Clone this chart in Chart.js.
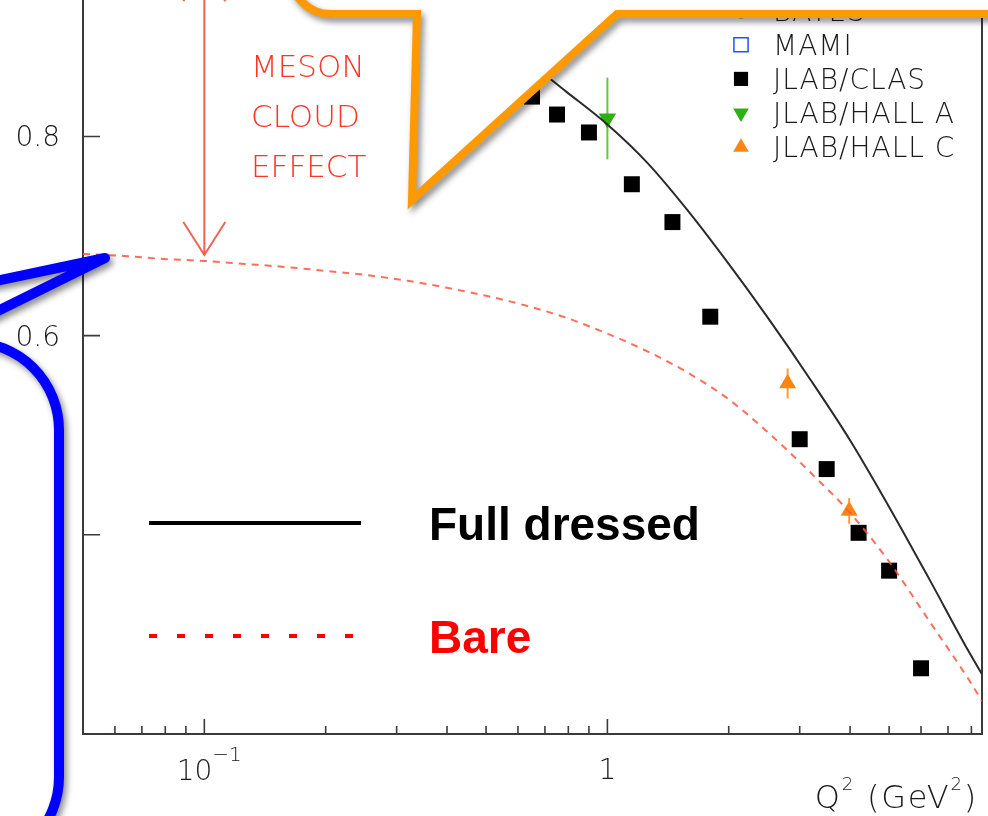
<!DOCTYPE html>
<html>
<head>
<meta charset="utf-8">
<script src="https://cdn.jsdelivr.net/npm/chart.js@4.4.1/dist/chart.umd.min.js"></script>
<style>
  html, body { margin: 0; padding: 0; background: #fff; }
  #wrap { width: 988px; height: 816px; position: relative; overflow: hidden; }
</style>
</head>
<body>
<div id="wrap"><canvas id="gmGrafico" width="988" height="816"></canvas></div>
<script>
// Q2 grid for the two model curves (GeV^2)
const q2Grid = [0.05, 0.063, 0.079, 0.1, 0.126, 0.158, 0.2, 0.25, 0.32, 0.4, 0.5, 0.63, 0.79, 1.0, 1.26, 1.58, 2.0, 2.5, 3.2, 4.0, 5.0, 6.3, 7.9, 8.5];
// full dressed model
const fullDressed = [0.985, 0.983, 0.980, 0.976, 0.971, 0.964, 0.956, 0.946, 0.935, 0.921, 0.902, 0.876, 0.845, 0.812, 0.773, 0.726, 0.672, 0.618, 0.555, 0.495, 0.428, 0.355, 0.282, 0.260];
// bare quark core
const bare = [0.682, 0.680, 0.677, 0.675, 0.672, 0.669, 0.665, 0.661, 0.655, 0.648, 0.640, 0.630, 0.618, 0.602, 0.584, 0.563, 0.536, 0.503, 0.462, 0.422, 0.373, 0.313, 0.254, 0.233];

// experimental points
const batesQ2 = [];
const batesVal = [];
const mamiQ2 = [];
const mamiVal = [];
const clasQ2 = [0.65, 0.75, 0.9, 1.15, 1.45, 1.8, 3.0, 3.5, 4.2, 5.0, 6.0];
const clasVal = [0.840, 0.822, 0.804, 0.752, 0.714, 0.619, 0.496, 0.466, 0.402, 0.364, 0.266];
const hallAQ2 = [1.0];
const hallAVal = [0.818];
const hallAErr = [0.041];
const hallCQ2 = [2.8, 3.98];
const hallCVal = [0.552, 0.424];
const hallCErr = [0.015, 0.013];

// axes
const xMin = 0.05, xMax = 8.5;
const yMin = 0.2, yMax = 0.937;
const yTicks = [0.2, 0.4, 0.6, 0.8];
const xMajor = [0.1, 1];
const xMinor = [0.06, 0.07, 0.08, 0.09, 0.2, 0.3, 0.4, 0.5, 0.6, 0.7, 0.8, 0.9, 2, 3, 4, 5, 6, 7, 8];

const THIN = '"DejaVu Sans"';
const BOLD = '"Liberation Sans", Arial, sans-serif';

function pts(xs, ys) {
  return xs.map((x, i) => ({ x: x, y: ys[i] }));
}

// error bars for the datasets that carry an err array
const errorBars = {
  id: "errorBars",
  beforeDatasetsDraw(chart) {
    const ctx = chart.ctx;
    const xs = chart.scales.x, ys = chart.scales.y;
    chart.data.datasets.forEach((ds) => {
      if (!ds.err) return;
      ctx.save();
      ctx.strokeStyle = ds.errColor;
      ctx.lineWidth = 2;
      ds.data.forEach((p, i) => {
        const px = xs.getPixelForValue(p.x);
        ctx.beginPath();
        ctx.moveTo(px, ys.getPixelForValue(p.y + ds.err[i]));
        ctx.lineTo(px, ys.getPixelForValue(p.y - ds.err[i]));
        ctx.stroke();
      });
      ctx.restore();
    });
  },
};

// frame, inward ticks and tick labels
const frame = {
  id: "frame",
  beforeDatasetsDraw(chart) {
    const ctx = chart.ctx;
    const a = chart.chartArea;
    const xs = chart.scales.x, ys = chart.scales.y;
    ctx.save();
    ctx.strokeStyle = "#3a3a3a";
    ctx.lineWidth = 2;
    ctx.beginPath();
    ctx.moveTo(a.left, a.top - 5);
    ctx.lineTo(a.left, a.bottom);
    ctx.lineTo(a.right, a.bottom);
    ctx.lineTo(a.right, a.top - 5);
    ctx.stroke();

    ctx.lineWidth = 1.6;
    ctx.beginPath();
    yTicks.forEach((v) => {
      const py = ys.getPixelForValue(v);
      ctx.moveTo(a.left, py);
      ctx.lineTo(a.left + 17, py);
    });
    xMajor.forEach((v) => {
      const px = xs.getPixelForValue(v);
      ctx.moveTo(px, a.bottom);
      ctx.lineTo(px, a.bottom - 15);
    });
    xMinor.forEach((v) => {
      const px = xs.getPixelForValue(v);
      ctx.moveTo(px, a.bottom);
      ctx.lineTo(px, a.bottom - 8);
    });
    ctx.stroke();

    ctx.fillStyle = "#1a1a1a";
    ctx.font = "200 28px " + THIN;
    ctx.textAlign = "right";
    ctx.textBaseline = "alphabetic";
    yTicks.forEach((v) => {
      ctx.fillText(v.toFixed(1), a.left - 23, ys.getPixelForValue(v) + 10);
    });

    // 10^-1 and 1
    const p01 = xs.getPixelForValue(0.1);
    ctx.textAlign = "right";
    ctx.fillText("10", p01 + 8, a.bottom + 46);
    ctx.font = "200 20px " + THIN;
    ctx.textAlign = "left";
    ctx.fillText("\u22121", p01 + 8, a.bottom + 27);
    ctx.font = "200 28px " + THIN;
    ctx.textAlign = "center";
    ctx.fillText("1", xs.getPixelForValue(1), a.bottom + 45);

    // axis title Q^2 (GeV^2)
    const parts = [["Q", 0], ["2", 1], [" (GeV", 0], ["2", 1], [")", 0]];
    ctx.letterSpacing = "1.8px";
    let w = 0;
    parts.forEach((p) => {
      ctx.font = "200 " + (p[1] ? 18 : 32) + "px " + THIN;
      w += ctx.measureText(p[0]).width;
    });
    let tx = a.right - 4 - w;
    ctx.textAlign = "left";
    parts.forEach((p) => {
      ctx.font = "200 " + (p[1] ? 18 : 32) + "px " + THIN;
      ctx.fillText(p[0], tx, p[1] ? 790 : 808);
      tx += ctx.measureText(p[0]).width;
    });
    ctx.letterSpacing = "0px";
    ctx.restore();
  },
};

// legends, meson cloud arrow and the two callout outlines
const notes = {
  id: "notes",
  afterDraw(chart) {
    const ctx = chart.ctx;
    const xs = chart.scales.x, ys = chart.scales.y;
    const drawPoint = Chart.helpers.drawPoint;
    ctx.save();

    // data legend, top right
    const marks = chart.data.datasets.filter((d) => d.legendRow !== undefined);
    marks.forEach((d) => {
      const cy = 10.5 + d.legendRow * 34.2;
      ctx.fillStyle = d.backgroundColor;
      ctx.strokeStyle = d.borderColor || d.backgroundColor;
      ctx.lineWidth = d.pointBorderWidth || 0;
      drawPoint(ctx, {
        pointStyle: d.pointStyle,
        radius: d.legendRadius,
        rotation: d.rotation || 0,
        borderWidth: d.pointBorderWidth || 0,
      }, 741, cy);
      ctx.fillStyle = "#1a1a1a";
      ctx.font = "200 28px " + THIN;
      ctx.letterSpacing = "1px";
      ctx.textAlign = "left";
      ctx.textBaseline = "alphabetic";
      ctx.fillText(d.label, 773, cy + 10);
      ctx.letterSpacing = "0px";
    });

    // model legend
    const curves = chart.data.datasets.filter((d) => d.showLine);
    curves.forEach((d, i) => {
      const cy = i === 0 ? 523 : 636;
      ctx.strokeStyle = d.legendColor;
      ctx.lineWidth = 4;
      ctx.setLineDash(d.borderDash ? [8, 20] : []);
      ctx.beginPath();
      ctx.moveTo(149, cy);
      ctx.lineTo(361, cy);
      ctx.stroke();
      ctx.setLineDash([]);
      ctx.fillStyle = d.legendColor;
      ctx.font = "bold 46px " + BOLD;
      ctx.textAlign = "left";
      ctx.fillText(d.label, 429, cy + 17);
    });

    // meson cloud arrow between the two curves at Q2 = 0.1
    const ax = xs.getPixelForValue(q2Grid[3]);
    const yTopArrow = ys.getPixelForValue(fullDressed[3]) + 7;
    const yBotArrow = ys.getPixelForValue(bare[3]) - 6;
    ctx.strokeStyle = "rgba(240,80,65,0.9)";
    ctx.lineWidth = 2;
    ctx.beginPath();
    ctx.moveTo(ax, yTopArrow);
    ctx.lineTo(ax, yBotArrow);
    ctx.moveTo(ax - 21, yBotArrow - 33);
    ctx.lineTo(ax, yBotArrow);
    ctx.lineTo(ax + 21, yBotArrow - 33);
    ctx.moveTo(ax - 21, yTopArrow + 33);
    ctx.lineTo(ax, yTopArrow);
    ctx.lineTo(ax + 21, yTopArrow + 33);
    ctx.stroke();

    ctx.fillStyle = "#ff3424";
    ctx.font = "200 31px " + THIN;
    ctx.textAlign = "left";
    ["MESON", "CLOUD", "EFFECT"].forEach((t, i) => {
      ctx.fillText(t, 251, 77 + i * 50);
    });

    // orange callout
    ctx.lineJoin = "miter";
    ctx.beginPath();
    ctx.moveTo(290, -100);
    ctx.lineTo(290, -27);
    ctx.arc(331, -27, 41, Math.PI, Math.PI / 2, true);
    ctx.lineTo(417, 14);
    ctx.lineTo(412, 200);
    ctx.lineTo(617, 14);
    ctx.lineTo(1100, 14);
    ctx.lineTo(1100, -100);
    ctx.closePath();
    ctx.fillStyle = "#fff";
    ctx.fill();
    ctx.save();
    ctx.shadowColor = "rgba(0,0,0,0.45)";
    ctx.shadowBlur = 6;
    ctx.shadowOffsetX = 3;
    ctx.shadowOffsetY = 4;
    ctx.strokeStyle = "#ff9900";
    ctx.lineWidth = 8;
    ctx.stroke();
    ctx.restore();

    // blue callout
    ctx.beginPath();
    ctx.moveTo(-295, 342);
    ctx.lineTo(105, 258);
    ctx.lineTo(-65, 342);
    ctx.lineTo(-29, 342);
    ctx.arc(-29, 430, 88, -Math.PI / 2, 0, false);
    ctx.lineTo(59, 777);
    ctx.arc(-29, 777, 88, 0, Math.PI / 2, false);
    ctx.lineTo(-400, 865);
    ctx.lineTo(-400, 342);
    ctx.closePath();
    ctx.fillStyle = "#fff";
    ctx.fill();
    ctx.save();
    ctx.shadowColor = "rgba(0,0,0,0.45)";
    ctx.shadowBlur = 6;
    ctx.shadowOffsetX = 3;
    ctx.shadowOffsetY = 4;
    ctx.strokeStyle = "#0000ff";
    ctx.lineWidth = 10;
    ctx.lineJoin = "round";
    ctx.stroke();
    ctx.restore();

    ctx.restore();
  },
};

let gmGrafico = document.getElementById("gmGrafico");
const config = {
  type: "scatter",
  data: {
    datasets: [
      {
        label: "Full dressed",
        data: pts(q2Grid, fullDressed),
        showLine: true,
        borderColor: "#2a2a2a",
        legendColor: "#000000",
        borderWidth: 2,
        pointRadius: 0,
        cubicInterpolationMode: "monotone",
      },
      {
        label: "Bare",
        data: pts(q2Grid, bare),
        showLine: true,
        borderColor: "rgba(255,85,65,0.85)",
        legendColor: "#ff0000",
        borderWidth: 2,
        borderDash: [7, 6],
        pointRadius: 0,
        cubicInterpolationMode: "monotone",
      },
      {
        label: "BATES",
        data: pts(batesQ2, batesVal),
        pointStyle: "circle",
        backgroundColor: "#e8401c",
        legendRadius: 8,
        legendRow: 0,
      },
      {
        label: "MAMI",
        data: pts(mamiQ2, mamiVal),
        pointStyle: "rect",
        backgroundColor: "rgba(0,0,0,0)",
        borderColor: "#2050ff",
        pointBorderWidth: 1.5,
        legendRadius: 10,
        legendRow: 1,
      },
      {
        label: "JLAB/CLAS",
        data: pts(clasQ2, clasVal),
        pointStyle: "rect",
        backgroundColor: "#000000",
        pointRadius: 11.3,
        pointBorderWidth: 0,
        legendRadius: 10,
        legendRow: 2,
      },
      {
        label: "JLAB/HALL A",
        data: pts(hallAQ2, hallAVal),
        err: hallAErr,
        errColor: "#5ccc3c",
        pointStyle: "triangle",
        rotation: 180,
        backgroundColor: "#2fb012",
        pointRadius: 10,
        pointBorderWidth: 0,
        legendRadius: 9,
        legendRow: 3,
      },
      {
        label: "JLAB/HALL C",
        data: pts(hallCQ2, hallCVal),
        err: hallCErr,
        errColor: "#ff9a3a",
        pointStyle: "triangle",
        backgroundColor: "#ff8412",
        pointRadius: 9.8,
        pointBorderWidth: 0,
        legendRadius: 9,
        legendRow: 4,
      },
    ],
  },
  options: {
    responsive: false,
    animation: false,
    devicePixelRatio: 1,
    layout: {
      autoPadding: false,
      padding: { left: 83, right: 6, top: 0, bottom: 82 },
    },
    plugins: {
      legend: { display: false },
      tooltip: { enabled: false },
    },
    scales: {
      x: { type: "logarithmic", min: xMin, max: xMax, display: false },
      y: { type: "linear", min: yMin, max: yMax, display: false },
    },
  },
  plugins: [frame, errorBars, notes],
};

let myGraph = new Chart(gmGrafico, config);
</script>
</body>
</html>
